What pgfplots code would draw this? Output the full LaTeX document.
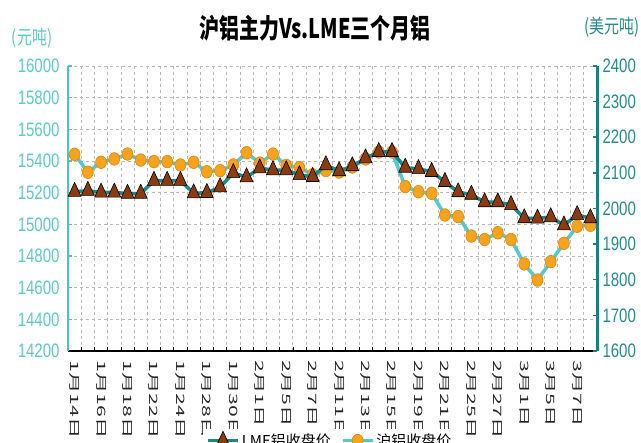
\documentclass[border=0pt]{standalone}
\usepackage{pgfplots}
\pgfplotsset{compat=1.18}
\usepackage{pgfplotstable}
\usepackage{fontspec}
\setmainfont{Liberation Sans}
\newfontfamily\cjk{Noto Sans CJK SC}
\newfontfamily\cjkl{Noto Sans CJK SC Light}

\definecolor{lmeline}{RGB}{24,138,138}
\definecolor{shline}{RGB}{84,202,202}
\definecolor{tri}{RGB}{140,58,14}
\definecolor{dot}{RGB}{247,164,28}
\definecolor{dotedge}{RGB}{222,132,20}
\definecolor{laxis}{RGB}{72,196,196}
\definecolor{raxis}{RGB}{28,128,128}
\definecolor{ltext}{RGB}{92,200,200}
\definecolor{rtext}{RGB}{40,138,138}

% x: trading day index, sh: 沪铝收盘价 (元/吨), lme: LME铝收盘价 (美元/吨)
\pgfplotstableread{
x  sh     lme
0  15442  2047
1  15329  2050
2  15392  2045
3  15413  2045
4  15444  2042
5  15406  2042
6  15396  2078
7  15396  2078
8  15375  2078
9  15392  2043
10 15332  2044
11 15339  2060
12 15375  2100
13 15452  2088
14 15387  2113
15 15444  2108
16 15372  2108
17 15358  2094
18 15313  2089
19 15340  2122
20 15330  2105
21 15362  2119
22 15413  2141
23 15457  2159
24 15457  2159
25 15238  2115
26 15206  2111
27 15196  2103
28 15059  2075
29 15049  2046
30 14926  2039
31 14904  2018
32 14947  2018
33 14904  2010
34 14750  1973
35 14648  1972
36 14764  1976
37 14880  1953
38 14988  1982
39 14994  1973
}\data

\newcommand{\xl}[1]{\scalebox{1.85}[1]{#1}}

\begin{document}
\begin{tikzpicture}
\path[use as bounding box] (0,0) rectangle (641pt,443pt);

\node[font=\cjk\bfseries\fontsize{20}{20}\selectfont, yscale=1.35] at (315pt,415pt) {沪铝主力Vs.LME三个月铝};
\node[font=\cjk\fontsize{15}{15}\selectfont, text=ltext, yscale=1.3] at (32pt,405pt) {(元吨)};
\node[font=\cjk\fontsize{15}{15}\selectfont, text=rtext, yscale=1.3] at (612pt,416pt) {(美元吨)};

\begin{axis}[
  at={(68pt,92pt)}, anchor=south west,
  width=529pt, height=285pt, scale only axis,
  xmin=-0.5, xmax=39.5, ymin=14200, ymax=16000,
  axis x line*=bottom, axis y line*=left,
  x axis line style={black, line width=1.2pt, -},
  y axis line style={laxis, line width=2.5pt, -},
  xtick={0,2,...,38},
  xticklabels={\xl{1月14日},\xl{1月16日},\xl{1月18日},\xl{1月22日},\xl{1月24日},
    \xl{1月28日},\xl{1月30日},\xl{2月1日},\xl{2月5日},\xl{2月7日},\xl{2月11日},
    \xl{2月13日},\xl{2月15日},\xl{2月19日},\xl{2月21日},\xl{2月25日},\xl{2月27日},
    \xl{3月1日},\xl{3月5日},\xl{3月7日}},
  minor xtick={-0.5,0.5,...,39.5},
  major x tick style={draw=none},
  minor x tick style={black, line width=0.6pt},
  minor tick length=4pt,
  xminorgrids, ymajorgrids,
  grid style={gray!55, line width=0.7pt, dash pattern=on 3pt off 3pt},
  minor grid style={gray!55, line width=0.7pt, dash pattern=on 3pt off 3pt},
  ytick={14200,14400,...,16000},
  scaled y ticks=false,
  y tick style={laxis, line width=1.5pt},
  major tick length=4pt,
  xticklabel style={rotate=-90, anchor=west, font=\cjk\fontsize{11.5}{11.5}\selectfont, text=black!85},
  xticklabel shift=6pt,
  yticklabel style={font=\fontsize{15}{15}\selectfont, text=ltext, yscale=1.3, xshift=-5pt},
  /pgf/number format/1000 sep={},
  /pgf/number format/assume math mode=true,
]
\addplot[shline, line width=3.5pt, line join=round, mark=*, mark size=5.5pt,
  mark options={fill=dot, draw=dotedge, line width=0.6pt, yscale=1.15}]
  table[x=x, y=sh] {\data};
\end{axis}

\begin{axis}[
  at={(68pt,92pt)}, anchor=south west,
  width=529pt, height=285pt, scale only axis,
  xmin=-0.5, xmax=39.5, ymin=1600, ymax=2400,
  axis x line=none, axis y line*=right,
  y axis line style={raxis, line width=3pt, -},
  ytick={1600,1700,...,2400},
  scaled y ticks=false,
  y tick style={raxis, line width=1.5pt},
  major tick length=4pt,
  yticklabel style={font=\fontsize{15}{15}\selectfont, text=rtext, yscale=1.3, xshift=2pt},
  /pgf/number format/1000 sep={},
  /pgf/number format/assume math mode=true,
  legend columns=2,
  legend style={at={(0.495,-0.314)}, anchor=center, draw=none, fill=white,
    font=\cjk\fontsize{15}{15}\selectfont,
    /tikz/every even column/.append style={column sep=8pt}},
  legend image code/.code={\draw[#1, mark repeat=2, mark phase=2]
    plot coordinates {(0pt,0pt) (15pt,0pt) (30pt,0pt)};},
]
\addplot[lmeline, line width=3.5pt, line join=round, mark=triangle*, mark size=7.5pt,
  mark options={fill=tri, draw=black, line width=0.6pt, yscale=1.25}]
  table[x=x, y=lme] {\data};
\addlegendentry{LME铝收盘价}
\addlegendimage{shline, line width=3.5pt, mark=*, mark size=5.5pt,
  mark options={fill=dot, draw=dotedge, line width=0.6pt, yscale=1.15}}
\addlegendentry{沪铝收盘价}
\end{axis}
\end{tikzpicture}
\end{document}
